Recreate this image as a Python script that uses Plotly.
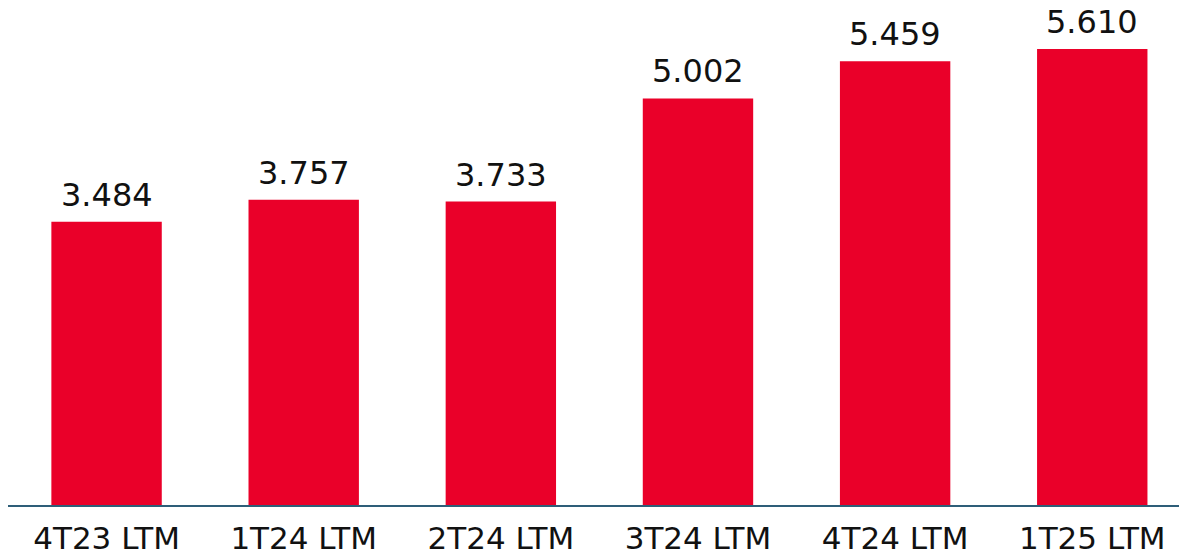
import plotly.graph_objects as go

periodos = ["4T23 LTM", "1T24 LTM", "2T24 LTM", "3T24 LTM", "4T24 LTM", "1T25 LTM"]
valores = [3484, 3757, 3733, 5002, 5459, 5610]

VERMELHO = "#EA0029"
FONTE = "'DejaVu Sans', sans-serif"

fig = go.Figure(
    go.Bar(
        x=periodos,
        y=valores,
        marker=dict(color=VERMELHO, line=dict(width=0)),
        hoverinfo="x+y",
    )
)

# rótulos de valor acima das barras
for p, v in zip(periodos, valores):
    fig.add_annotation(
        x=p, y=v,
        text=f"{v:,}".replace(",", "."),
        showarrow=False,
        yanchor="bottom",
        yshift=6,
        font=dict(family=FONTE, size=32, color="#111111"),
    )

fig.update_layout(
    width=1179,
    height=555,
    margin=dict(l=8, r=0, t=0, b=50),
    paper_bgcolor="white",
    plot_bgcolor="white",
    bargap=0.44,
    showlegend=False,
    font=dict(family=FONTE, color="#111111"),
)
fig.update_xaxes(
    range=[-0.5, 5.44],
    automargin=False,
    showline=True,
    linecolor="#2E5E78",
    linewidth=2,
    ticks="",
    ticklabelstandoff=5,
    tickfont=dict(family=FONTE, size=31, color="#111111"),
    showgrid=False,
)
fig.update_yaxes(range=[0, 6213], visible=False, showgrid=False, automargin=False)

fig.write_html(
    "out.html",
    config={"displayModeBar": False},
    post_script="document.body.style.margin='0';",
)
